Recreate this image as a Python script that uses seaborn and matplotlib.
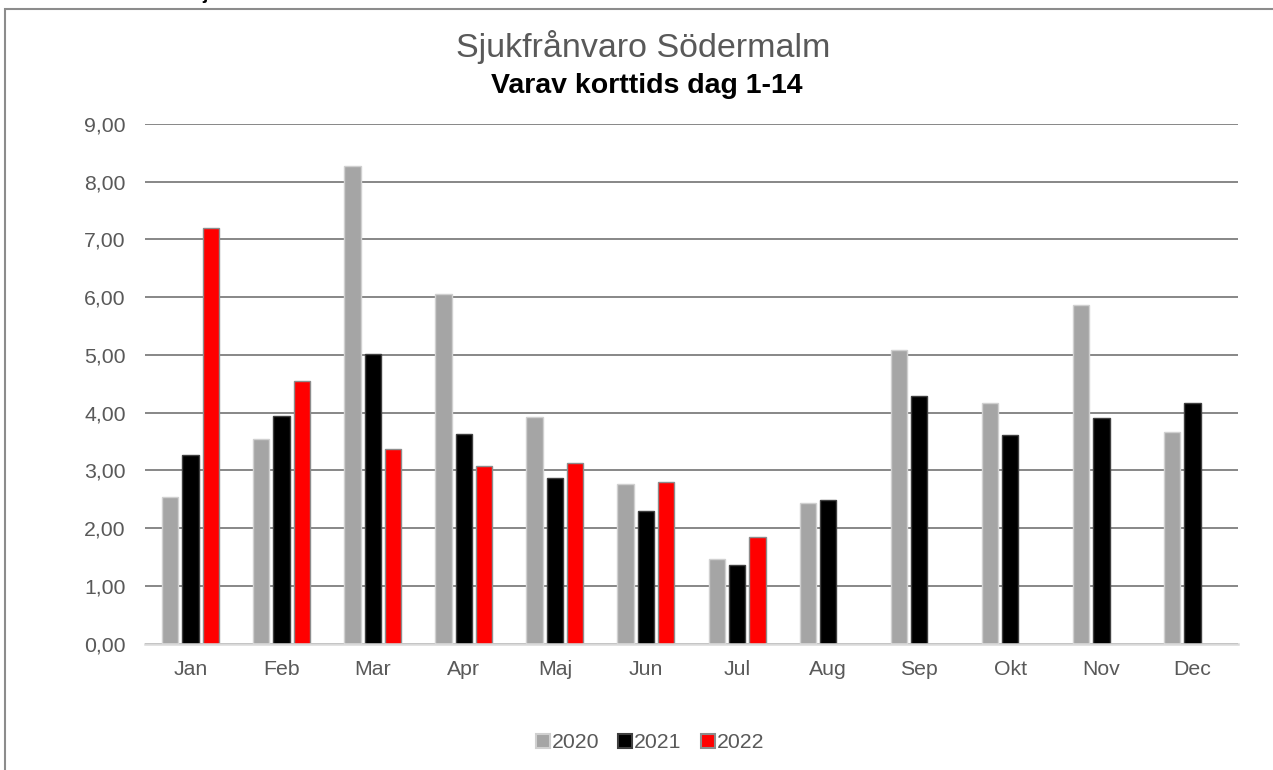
import matplotlib
matplotlib.use("Agg")
import matplotlib.pyplot as plt
import matplotlib.patches as mpatches
from matplotlib.ticker import FuncFormatter
import seaborn as sns
import pandas as pd
import numpy as np

months = ["Jan", "Feb", "Mar", "Apr", "Maj", "Jun", "Jul", "Aug", "Sep", "Okt", "Nov", "Dec"]
years = ["2020", "2021", "2022"]
v2020 = [2.54, 3.54, 8.27, 6.06, 3.93, 2.76, 1.47, 2.44, 5.09, 4.16, 5.87, 3.66]
v2021 = [3.26, 3.94, 5.01, 3.63, 2.86, 2.30, 1.36, 2.48, 4.28, 3.61, 3.91, 4.16]
v2022 = [7.20, 4.54, 3.37, 3.07, 3.13, 2.80, 1.84, np.nan, np.nan, np.nan, np.nan, np.nan]
yticks = [0, 1, 2, 3, 4, 5, 6, 7, 8, 9]

title = "Sjukfrånvaro Södermalm"
subtitle = "Varav korttids dag 1-14"

colors = {"2020": "#A5A5A5", "2021": "#000000", "2022": "#FF0000"}
edges = {"2020": "#D0D0D0", "2021": "#404040", "2022": "#8C8C8C"}

df = pd.DataFrame({
    "month": months * 3,
    "year": ["2020"] * 12 + ["2021"] * 12 + ["2022"] * 12,
    "value": v2020 + v2021 + v2022,
})

sns.set_theme(style="white")
plt.rcParams["font.family"] = ["Liberation Sans", "DejaVu Sans"]

W, H = 1273, 770
fig = plt.figure(figsize=(W / 100, H / 100), dpi=100)
ax = fig.add_axes([145 / W, 1 - 643.5 / H, (1238 - 145) / W, (643.5 - 124) / H])

sns.barplot(data=df, x="month", y="value", hue="year", order=months, hue_order=years,
            palette=colors, width=0.67, gap=0.2, ax=ax, legend=False, saturation=1)

for cont, yr in zip(ax.containers, years):
    for p in cont.patches:
        p.set_edgecolor(edges[yr])
        p.set_linewidth(1.0)
        p.set_zorder(3)

ax.set_ylim(0, 9)
ax.set_xlim(-0.5, 11.5)
ax.set_yticks(yticks)
ax.yaxis.set_major_formatter(FuncFormatter(lambda v, p: f"{v:.2f}".replace(".", ",")))
ax.grid(axis="y", color="#878787", linewidth=1.4, zorder=0)
ax.set_axisbelow(True)
for s in ["top", "right", "left"]:
    ax.spines[s].set_visible(False)
ax.spines["bottom"].set_color("#D9D9D9")
ax.spines["bottom"].set_linewidth(1.8)
ax.spines["bottom"].set_zorder(4)
ax.set_xlabel("")
ax.set_ylabel("")
ax.tick_params(axis="both", length=0, labelsize=15.3, labelcolor="#595959")
ax.tick_params(axis="y", pad=14)
ax.tick_params(axis="x", pad=12)

fig.text(643 / W, 1 - 47 / H, title, ha="center", va="center", fontsize=24.5, color="#595959")
fig.text(647 / W, 1 - 86 / H, subtitle, ha="center", va="center", fontsize=20.5,
         color="#000000", fontweight="bold")

handles = [mpatches.Patch(facecolor=colors[y], edgecolor=edges[y], linewidth=1.5, label=y) for y in years]
fig.legend(handles=handles, loc="center", bbox_to_anchor=(650 / W, 1 - 743 / H), ncol=3,
           frameon=False, fontsize=15.3, labelcolor="#595959", handlelength=0.65,
           handleheight=0.65, handletextpad=0.1, columnspacing=0.9)

border = mpatches.Rectangle((5 / W, -0.1), 1.2, (1 - 9.5 / H) + 0.1, transform=fig.transFigure,
                            fill=False, edgecolor="#8C8C8C", linewidth=1.5)
fig.patches.append(border)

fig.text(205 / W, 1 + 1 / H, "j", ha="center", va="baseline", fontsize=14,
         fontweight="bold", color="#000000")

fig.savefig("out.png", dpi=100)
